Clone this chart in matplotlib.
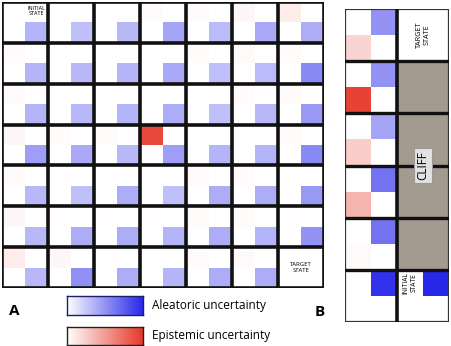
import numpy as np
import matplotlib.pyplot as plt
from matplotlib.colors import LinearSegmentedColormap
from matplotlib.patches import Rectangle

plt.rcParams['font.family'] = ['Open Sans', 'DejaVu Sans']

# panel A: 7x7 gridworld, one value per state (nan = target state)
aleatoric_a = [
    [0.35, 0.30, 0.33, 0.42, 0.32, 0.40, 0.38],
    [0.35, 0.33, 0.35, 0.40, 0.30, 0.32, 0.55],
    [0.35, 0.33, 0.35, 0.38, 0.30, 0.33, 0.48],
    [0.45, 0.40, 0.33, 0.45, 0.35, 0.35, 0.55],
    [0.33, 0.30, 0.38, 0.30, 0.38, 0.38, 0.48],
    [0.33, 0.38, 0.38, 0.35, 0.38, 0.35, 0.50],
    [0.33, 0.52, 0.38, 0.35, 0.38, 0.38, np.nan],
]
epistemic_a = [
    [0.00, 0.00, 0.00, 0.02, 0.02, 0.04, 0.10],
    [0.02, 0.00, 0.00, 0.00, 0.02, 0.03, 0.02],
    [0.02, 0.00, 0.00, 0.00, 0.00, 0.02, 0.02],
    [0.04, 0.02, 0.02, 0.92, 0.00, 0.00, 0.02],
    [0.02, 0.01, 0.01, 0.00, 0.02, 0.02, 0.01],
    [0.04, 0.01, 0.01, 0.01, 0.02, 0.02, 0.01],
    [0.10, 0.04, 0.01, 0.01, 0.02, 0.03, np.nan],
]

# panel B: cliff world, left column states (top to bottom)
aleatoric_b = [0.50, 0.50, 0.42, 0.65, 0.65, 0.95]
epistemic_b = [0.22, 0.95, 0.25, 0.38, 0.03, 0.00]
aleatoric_b_initial = 1.0
cliff_rows = [1, 2, 3, 4]

blues = LinearSegmentedColormap.from_list("alea", ["#ffffff", "#2828eb"])
reds = LinearSegmentedColormap.from_list("epi", ["#ffffff", "#e6392a"])

W, H = 452, 346
fig = plt.figure(figsize=(W / 100, H / 100), dpi=100)


def box_axes(x0, y0, x1, y1):
    ax = fig.add_axes([x0 / W, 1 - y1 / H, (x1 - x0) / W, (y1 - y0) / H])
    ax.set_axis_off()
    return ax


# ---- panel A ----
axA = box_axes(2, 2, 324, 288)
axA.set_xlim(0, 7)
axA.set_ylim(7, 0)
for r in range(7):
    for c in range(7):
        if np.isnan(aleatoric_a[r][c]):
            continue
        axA.add_patch(Rectangle((c, r), 0.5, 0.5, color=reds(epistemic_a[r][c]), lw=0))
        axA.add_patch(Rectangle((c + 0.5, r + 0.5), 0.5, 0.5, color=blues(aleatoric_a[r][c]), lw=0))
for i in range(8):
    axA.axvline(i, color="#111111", lw=2.6)
    axA.axhline(i, color="#111111", lw=2.6)
axA.text(0.75, 0.22, "INITIAL\nSTATE", ha="center", va="center", fontsize=4, linespacing=1.1)
axA.text(6.5, 6.5, "TARGET\nSTATE", ha="center", va="center", fontsize=4.3, linespacing=1.1)

# ---- panel B ----
axB = box_axes(345, 9, 449, 322)
axB.set_xlim(0, 2)
axB.set_ylim(6, 0)
for r in range(6):
    axB.add_patch(Rectangle((0.5, r), 0.5, 0.5, color=blues(aleatoric_b[r]), lw=0))
    axB.add_patch(Rectangle((0, r + 0.5), 0.5, 0.5, color=reds(epistemic_b[r]), lw=0))
for r in cliff_rows:
    axB.add_patch(Rectangle((1, r), 1, 1, color="#a39a90", lw=0))
axB.add_patch(Rectangle((1.5, 5), 0.5, 0.5, color=blues(aleatoric_b_initial), lw=0))
for i in range(1, 6):
    axB.axhline(i, color="#111111", lw=2.4)
axB.axvline(1, color="#111111", lw=2.6)
axB.add_patch(Rectangle((0, 0), 2, 6, fill=False, ec="#333333", lw=1.6))
axB.text(1.5, 0.5, "TARGET\nSTATE", rotation=90, ha="center", va="center", fontsize=5.2, linespacing=1.1)
axB.text(1.25, 5.25, "INITIAL\nSTATE", rotation=90, ha="center", va="center", fontsize=4.8, linespacing=1.1)
axB.text(1.5, (cliff_rows[0] + cliff_rows[-1] + 1) / 2, "CLIFF", rotation=90, ha="center", va="center",
         fontsize=8.5, bbox=dict(boxstyle="square,pad=0.25", fc="#e2e2e2", ec="#999999", lw=0.8))

# ---- legends ----
grad = np.linspace(0, 1, 256).reshape(1, -1)
for (y0, y1), cmap, edge, label in [((296, 315), blues, "#1d1d6e", "Aleatoric uncertainty"),
                                    ((327, 345), reds, "#222222", "Epistemic uncertainty")]:
    ax = box_axes(67, y0, 143, y1)
    ax.set_axis_on()
    ax.imshow(grad, aspect="auto", cmap=cmap)
    ax.set_xticks([])
    ax.set_yticks([])
    for s in ax.spines.values():
        s.set_edgecolor(edge)
        s.set_linewidth(1)
    fig.text(152 / W, 1 - (y0 + y1) / 2 / H, label, ha="left", va="center", fontsize=8.5)

fig.text(14 / W, 1 - 311 / H, "A", ha="center", va="center", fontsize=11, fontweight="bold")
fig.text(320 / W, 1 - 312 / H, "B", ha="center", va="center", fontsize=11, fontweight="bold")

fig.savefig("out.png", dpi=100)
